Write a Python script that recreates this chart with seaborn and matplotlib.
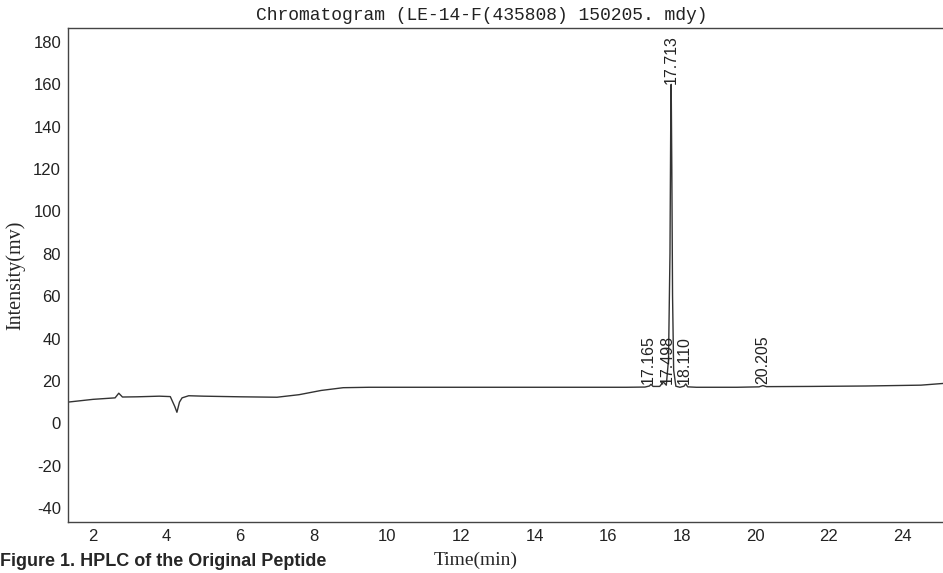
import matplotlib
matplotlib.use("Agg")
import matplotlib.pyplot as plt
import pandas as pd
import seaborn as sns

# Chromatogram trace (time in min, intensity in mV)
time_min = [1.32, 2.0, 2.6, 2.7, 2.8, 3.2, 3.8, 4.1, 4.22, 4.28, 4.35, 4.42, 4.6, 5.0,
            6.0, 7.0, 7.6, 8.2, 8.8, 9.5, 11.0, 13.0, 15.0, 16.5, 17.0, 17.12, 17.165,
            17.22, 17.4, 17.498, 17.58, 17.64, 17.68, 17.70, 17.713, 17.73, 17.75,
            17.78, 17.84, 17.95, 18.06, 18.110, 18.16, 18.4, 19.5, 20.1, 20.205,
            20.3, 21.5, 23.0, 24.5, 25.1]
intensity = [10.0, 11.3, 12.0, 14.2, 12.4, 12.5, 12.8, 12.6, 8.0, 5.2, 10.0, 12.0,
             13.0, 12.8, 12.5, 12.3, 13.5, 15.5, 16.8, 17.0, 17.0, 17.0, 17.0, 17.0,
             17.1, 17.6, 18.4, 17.4, 17.4, 19.5, 18.0, 30.0, 80.0, 140.0, 160.0, 120.0,
             60.0, 25.0, 17.5, 17.0, 17.5, 18.6, 17.2, 17.0, 17.0, 17.2, 17.8, 17.3,
             17.4, 17.6, 18.0, 18.8]

peak_times = [17.165, 17.498, 17.713, 18.110, 20.205]
peak_labels = ["17.165", "17.498", "17.713", "18.110", "20.205"]
peak_label_y = [18.5, 18.5, 160.0, 18.5, 18.5]
peak_label_dx = [-0.08, 0.1, 0.0, -0.05, 0.0]

x_ticks = [2, 4, 6, 8, 10, 12, 14, 16, 18, 20, 22, 24]
y_ticks = [-40, -20, 0, 20, 40, 60, 80, 100, 120, 140, 160, 180]

df = pd.DataFrame({"time": time_min, "value": intensity})

sns.set_style("white")
plt.rcParams['font.family'] = ['Liberation Sans', 'DejaVu Sans']
plt.rcParams['axes.unicode_minus'] = False

fig = plt.figure(figsize=(9.43, 5.73), dpi=100)
ax = fig.add_axes([68 / 943, 51 / 573, 875 / 943, 494 / 573])

sns.lineplot(data=df, x="time", y="value", ax=ax, color="#333333", linewidth=1.0)

for t, lab, yv, dx in zip(peak_times, peak_labels, peak_label_y, peak_label_dx):
    ax.text(t + dx, yv, lab, rotation=90, ha="center", va="bottom",
            fontsize=11.5, color="#222222")

ax.set_xlim(1.32, 25.1)
ax.set_ylim(-46.6, 186.6)
ax.set_xticks(x_ticks)
ax.set_yticks(y_ticks)
ax.tick_params(axis="both", length=0, pad=5, labelsize=12, colors="#222222")
ax.set_xlabel("")
ax.set_ylabel("Intensity(mv)", family="Liberation Serif", fontsize=14.5, labelpad=6)

for s in ["left", "top", "bottom"]:
    ax.spines[s].set_color("#444444")
    ax.spines[s].set_linewidth(1.0)
ax.spines["right"].set_visible(False)

fig.text(482 / 943, 1 - 15 / 573, "Chromatogram (LE-14-F(435808) 150205. mdy)",
         family="Liberation Mono", fontsize=13, ha="center", va="center", color="#222222")
fig.text(476 / 943, 1 - 560 / 573, "Time(min)", family="Liberation Serif",
         fontsize=14, ha="center", va="center")
fig.text(0.0, 1 - 562 / 573, "Figure 1. HPLC of the Original Peptide",
         fontsize=13, fontweight="bold", ha="left", va="center")

fig.savefig("out.png", dpi=100)
